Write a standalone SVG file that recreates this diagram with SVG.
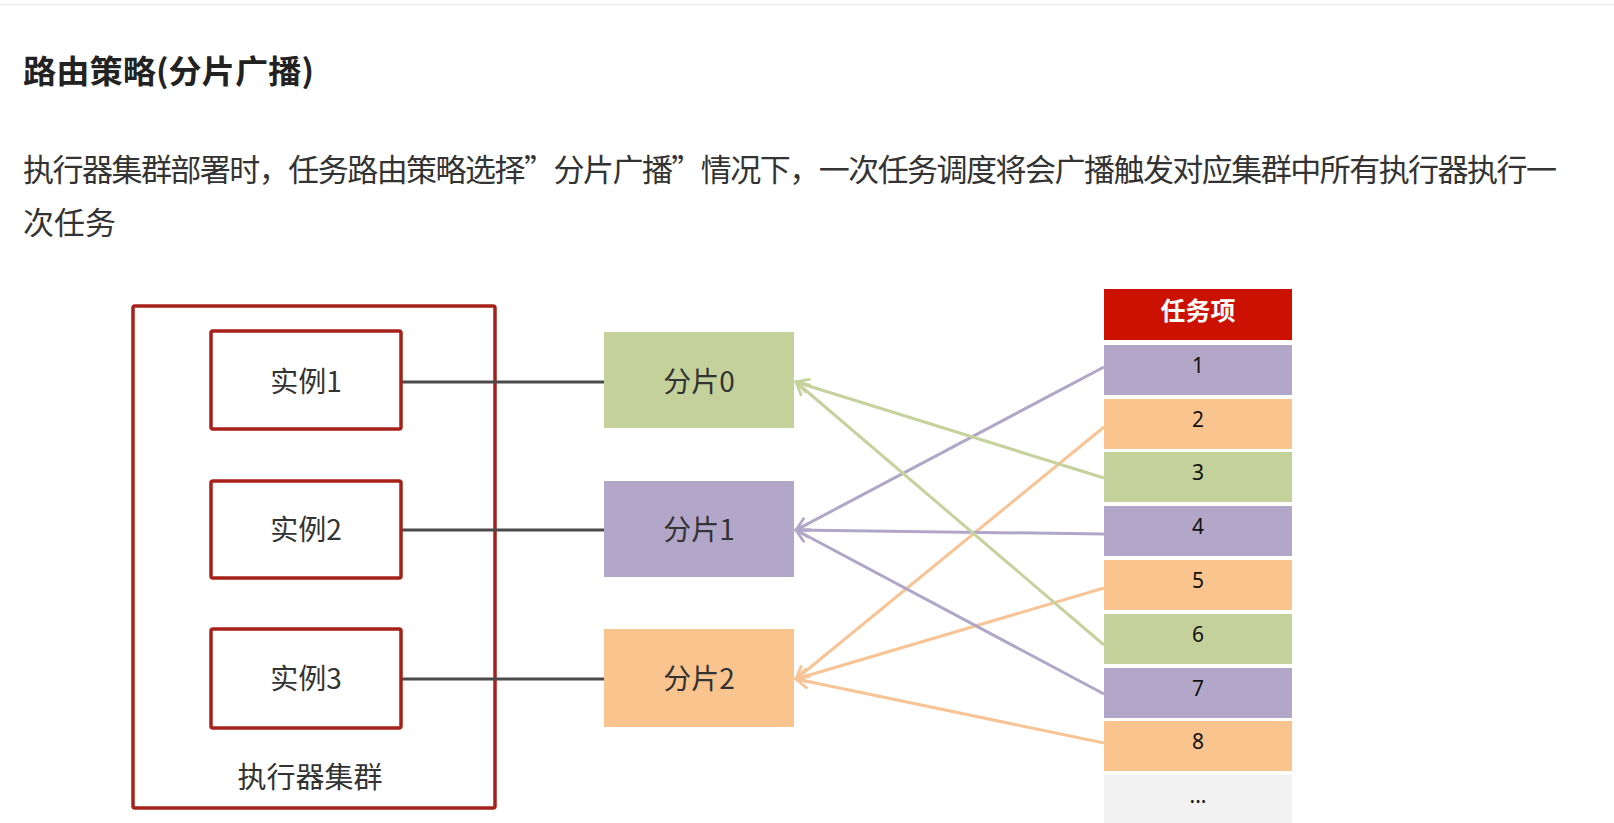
<svg xmlns="http://www.w3.org/2000/svg" width="1614" height="823" viewBox="0 0 1614 823">
<style>
.cjk{font-family:"Noto Sans CJK SC","Liberation Sans",sans-serif;}
.title{font-size:32px;font-weight:bold;fill:#222;}
.para{font-size:31px;fill:#333;}
.lbl{font-size:28px;fill:#333;text-anchor:middle;}
.num{font-family:"Noto Sans","Liberation Sans",sans-serif;font-size:21px;fill:#111;text-anchor:middle;}
.redbox{fill:#fff;stroke:#a8201a;stroke-width:3.5;}
.link{stroke:#4a4a4a;stroke-width:3;fill:none;}
.g{fill:#c4d19a;}
.p{fill:#b3a7c9;}
.o{fill:#fac48e;}
.lg{stroke:#c5d29d;stroke-width:3;fill:none;marker-end:url(#ag);}
.lp{stroke:#b0a6c8;stroke-width:3;fill:none;marker-end:url(#ap);}
.lo{stroke:#f8c495;stroke-width:3;fill:none;marker-end:url(#ao);}
</style>
<defs>
<marker id="ag" viewBox="0 0 18 18" refX="16" refY="9" markerWidth="18" markerHeight="18" markerUnits="userSpaceOnUse" orient="auto"><path d="M3,2 L16,9 L3,16" fill="none" stroke="#c5d29d" stroke-width="2.8"/></marker>
<marker id="ap" viewBox="0 0 18 18" refX="16" refY="9" markerWidth="18" markerHeight="18" markerUnits="userSpaceOnUse" orient="auto"><path d="M3,2 L16,9 L3,16" fill="none" stroke="#b0a6c8" stroke-width="2.8"/></marker>
<marker id="ao" viewBox="0 0 18 18" refX="16" refY="9" markerWidth="18" markerHeight="18" markerUnits="userSpaceOnUse" orient="auto"><path d="M3,2 L16,9 L3,16" fill="none" stroke="#f8c495" stroke-width="2.8"/></marker>
</defs>
<rect x="0" y="0" width="1614" height="823" fill="#fff"/>
<line x1="0" y1="4.5" x2="1614" y2="4.5" stroke="#ededed" stroke-width="1.5"/>
<text class="cjk title" x="23" y="83" textLength="291" lengthAdjust="spacingAndGlyphs">路由策略(分片广播)</text>
<text class="cjk para" x="23" y="181" textLength="1534" lengthAdjust="spacing">执行器集群部署时，任务路由策略选择”分片广播”情况下，一次任务调度将会广播触发对应集群中所有执行器执行一</text>
<text class="cjk para" x="23" y="234">次任务</text>

<g id="cluster">
<rect class="redbox" x="133" y="306" width="362" height="502" rx="2"/>
<text class="cjk lbl" x="310" y="788" style="font-size:29px">执行器集群</text>
</g>

<g id="connectors">
<line class="link" x1="401" y1="382" x2="604" y2="382"/>
<line class="link" x1="401" y1="530" x2="604" y2="530"/>
<line class="link" x1="401" y1="679" x2="604" y2="679"/>
<line class="lp" x1="1104" y1="367" x2="796" y2="530"/>
<line class="lo" x1="1104" y1="427" x2="796" y2="679"/>
<line class="lg" x1="1104" y1="478" x2="796" y2="382"/>
<line class="lp" x1="1104" y1="534" x2="796" y2="530"/>
<line class="lo" x1="1104" y1="588" x2="796" y2="679"/>
<line class="lg" x1="1104" y1="645" x2="796" y2="382"/>
<line class="lp" x1="1104" y1="694" x2="796" y2="530"/>
<line class="lo" x1="1104" y1="743" x2="796" y2="679"/>
</g>

<g id="instance1"><rect class="redbox" x="211" y="331" width="190" height="98" rx="2"/><text class="cjk lbl" x="306" y="392">实例1</text></g>
<g id="instance2"><rect class="redbox" x="211" y="481" width="190" height="97" rx="2"/><text class="cjk lbl" x="306" y="540">实例2</text></g>
<g id="instance3"><rect class="redbox" x="211" y="629" width="190" height="99" rx="2"/><text class="cjk lbl" x="306" y="689">实例3</text></g>

<g id="shard0"><rect class="g" x="604" y="332" width="190" height="96"/><text class="cjk lbl" x="699" y="392">分片0</text></g>
<g id="shard1"><rect class="p" x="604" y="481" width="190" height="96"/><text class="cjk lbl" x="699" y="540">分片1</text></g>
<g id="shard2"><rect class="o" x="604" y="629" width="190" height="98"/><text class="cjk lbl" x="699" y="689">分片2</text></g>

<g id="task-header"><rect x="1104" y="289" width="188" height="51" fill="#cc1100"/><text class="cjk" x="1198" y="320" text-anchor="middle" style="font-size:25px;font-weight:bold;fill:#fff">任务项</text></g>
<g id="task1"><rect class="p" x="1104" y="345" width="188" height="50"/><text class="num" x="1198" y="373">1</text></g>
<g id="task2"><rect class="o" x="1104" y="399" width="188" height="50"/><text class="num" x="1198" y="427">2</text></g>
<g id="task3"><rect class="g" x="1104" y="452" width="188" height="50"/><text class="num" x="1198" y="480">3</text></g>
<g id="task4"><rect class="p" x="1104" y="506" width="188" height="50"/><text class="num" x="1198" y="534">4</text></g>
<g id="task5"><rect class="o" x="1104" y="560" width="188" height="50"/><text class="num" x="1198" y="588">5</text></g>
<g id="task6"><rect class="g" x="1104" y="614" width="188" height="50"/><text class="num" x="1198" y="642">6</text></g>
<g id="task7"><rect class="p" x="1104" y="668" width="188" height="50"/><text class="num" x="1198" y="696">7</text></g>
<g id="task8"><rect class="o" x="1104" y="721" width="188" height="50"/><text class="num" x="1198" y="749">8</text></g>
<g id="task-more"><rect x="1104" y="775" width="188" height="50" fill="#f2f2f2"/><text class="num" x="1198" y="803">...</text></g>
</svg>
